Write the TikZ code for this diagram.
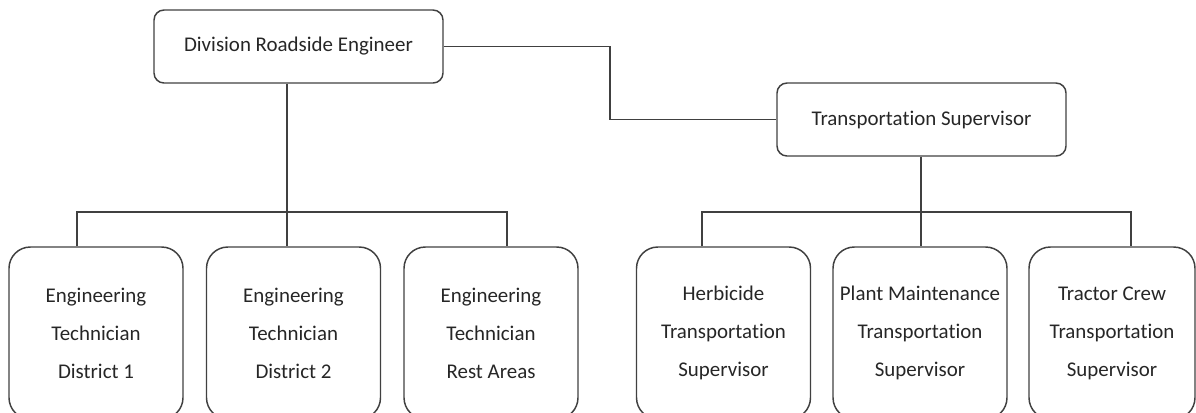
\documentclass[tikz,border=0pt]{standalone}
\usepackage{fontspec}
\setmainfont[Ligatures={NoCommon}]{Carlito}
\definecolor{org_line}{HTML}{404040}
\definecolor{org_text}{HTML}{262626}

\begin{document}
\begin{tikzpicture}[x=0.75pt, y=-0.75pt,
        headbox/.style={draw=org_line, line width=1.1pt, rounded corners=7.5pt,
            text=org_text, font=\fontsize{15.7}{19}\selectfont,
            minimum width=216.75pt, minimum height=54.75pt, inner sep=0pt},
        staffbox/.style={draw=org_line, line width=1.1pt, rounded corners=16pt,
            text=org_text, align=center, font=\fontsize{15.7}{28.5}\selectfont,
            minimum width=130.5pt, minimum height=129pt, inner sep=0pt},
        link/.style={draw=org_line, line width=1.1pt}]
    \useasboundingbox (0, 0) rectangle (1196, 412);
    \clip (0, 0) rectangle (1196, 412);

    \node[headbox] (dre) at (298.5, 46.5) {Division Roadside Engineer};
    \node[headbox] (ts) at (921.5, 119.5) {Transportation Supervisor};

    \node[staffbox] (et1) at (96, 333) {Engineering\\Technician\\District 1};
    \node[staffbox] (et2) at (293.5, 333) {Engineering\\Technician\\District 2};
    \node[staffbox] (et3) at (491, 333) {Engineering\\Technician\\Rest Areas};

    \node[staffbox] (hts) at (723.5, 333) {Herbicide\\Transportation\\Supervisor};
    \node[staffbox] (pts) at (920, 333) {Plant Maintenance\\Transportation\\Supervisor};
    \node[staffbox, minimum width=124.5pt] (tcs) at (1112, 333) {Tractor Crew\\Transportation\\Supervisor};

    % drop points on the two buses
    \coordinate (lbus1) at (77, 212);
    \coordinate (lbus2) at (287, 212);
    \coordinate (lbus3) at (507, 212);
    \coordinate (rbus1) at (702, 212);
    \coordinate (rbus2) at (921, 212);
    \coordinate (rbus3) at (1131, 212);
    \coordinate (bend) at (610, 0);

    \draw[link] (dre.east) -| (bend |- ts.west) -- (ts.west);

    \draw[link] (dre.south -| lbus2) -- (et2.north -| lbus2);
    \draw[link] (et1.north -| lbus1) -- (lbus1) -- (lbus3) -- (et3.north -| lbus3);

    \draw[link] (ts.south -| rbus2) -- (pts.north -| rbus2);
    \draw[link] (hts.north -| rbus1) -- (rbus1) -- (rbus3) -- (tcs.north -| rbus3);
\end{tikzpicture}
\end{document}
